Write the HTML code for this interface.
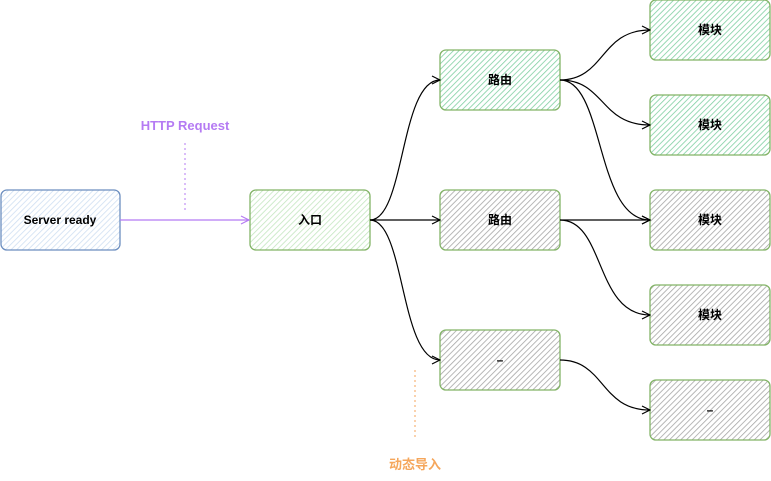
<!DOCTYPE html>
<html><head><meta charset="utf-8"><style>
body{margin:0;background:#fff;}
svg{display:block}
text{font-family:"Liberation Sans","Noto Sans CJK SC",sans-serif;}
</style></head><body>
<svg width="771" height="481" viewBox="0 0 771 481" xmlns="http://www.w3.org/2000/svg">
<defs>
<pattern id="hg" width="4" height="4" patternUnits="userSpaceOnUse" patternTransform="rotate(45)"><rect width="4" height="4" fill="#fff"/><line x1="0" y1="0" x2="0" y2="4" stroke="#7fcfa2" stroke-width="1.6"/></pattern>
<pattern id="hl" width="4" height="4" patternUnits="userSpaceOnUse" patternTransform="rotate(45)"><rect width="4" height="4" fill="#fff"/><line x1="0" y1="0" x2="0" y2="4" stroke="#c4e6c0" stroke-width="1.6"/></pattern>
<pattern id="hy" width="4" height="4" patternUnits="userSpaceOnUse" patternTransform="rotate(45)"><rect width="4" height="4" fill="#fff"/><line x1="0" y1="0" x2="0" y2="4" stroke="#a6a6a6" stroke-width="1.6"/></pattern>
<pattern id="hb" width="4" height="4" patternUnits="userSpaceOnUse" patternTransform="rotate(45)"><rect width="4" height="4" fill="#fff"/><line x1="0" y1="0" x2="0" y2="4" stroke="#cfdff2" stroke-width="1.6"/></pattern>
<marker id="a" markerWidth="10" markerHeight="10" refX="9" refY="5" orient="auto" markerUnits="userSpaceOnUse"><path d="M1,1 L9,5 L1,9" fill="none" stroke="#000" stroke-width="1.2"/></marker>
<marker id="ap" markerWidth="10" markerHeight="10" refX="9" refY="5" orient="auto" markerUnits="userSpaceOnUse"><path d="M1,1 L9,5 L1,9" fill="none" stroke="#b57bf3" stroke-width="1.2"/></marker>
</defs>
<g stroke-width="1.3">
<rect x="1" y="190" width="119" height="60" rx="6" fill="url(#hb)" stroke="#6c8ebf"/>
<rect x="250" y="190" width="120" height="60" rx="6" fill="url(#hl)" stroke="#82b366"/>
<rect x="440" y="50" width="120" height="60" rx="6" fill="url(#hg)" stroke="#82b366"/>
<rect x="440" y="190" width="120" height="60" rx="6" fill="url(#hy)" stroke="#82b366"/>
<rect x="440" y="330" width="120" height="60" rx="6" fill="url(#hy)" stroke="#82b366"/>
<rect x="650" y="0" width="120" height="60" rx="6" fill="url(#hg)" stroke="#82b366"/>
<rect x="650" y="95" width="120" height="60" rx="6" fill="url(#hg)" stroke="#82b366"/>
<rect x="650" y="190" width="120" height="60" rx="6" fill="url(#hy)" stroke="#82b366"/>
<rect x="650" y="285" width="120" height="60" rx="6" fill="url(#hy)" stroke="#82b366"/>
<rect x="650" y="380" width="120" height="60" rx="6" fill="url(#hy)" stroke="#82b366"/>
</g>
<g fill="none" stroke="#000" stroke-width="1.2">
<path d="M370,220 C405,220 400,80 440,80" marker-end="url(#a)"/>
<path d="M370,220 L440,220" marker-end="url(#a)"/>
<path d="M370,220 C405,220 400,360 440,360" marker-end="url(#a)"/>
<path d="M560,80 C605,80 600,30 650,30" marker-end="url(#a)"/>
<path d="M560,80 C605,80 600,125 650,125" marker-end="url(#a)"/>
<path d="M560,80 C605,80 595,220 650,220" marker-end="url(#a)"/>
<path d="M560,220 L650,220" marker-end="url(#a)"/>
<path d="M560,220 C605,220 595,315 650,315" marker-end="url(#a)"/>
<path d="M560,360 C605,360 600,410 650,410" marker-end="url(#a)"/>
</g>
<path d="M120,220 L249,220" stroke="#b57bf3" stroke-width="1.2" fill="none" marker-end="url(#ap)"/>
<path d="M185,143 L185,212" stroke="#b57bf3" stroke-width="1" stroke-dasharray="2,3"/>
<path d="M415,370 L415,440" stroke="#f5a65b" stroke-width="1" stroke-dasharray="2,3"/>
<g font-size="12" text-anchor="middle" fill="#000" font-weight="bold">
<text x="60" y="224">Server ready</text>
<text x="310" y="224">入口</text>
<text x="500" y="84">路由</text>
<text x="500" y="224">路由</text>
<text x="500" y="364">–</text>
<text x="710" y="34">模块</text>
<text x="710" y="129">模块</text>
<text x="710" y="224">模块</text>
<text x="710" y="319">模块</text>
<text x="710" y="414">–</text>
</g>
<text x="185" y="130" font-size="13" text-anchor="middle" fill="#b57bf3" font-weight="bold">HTTP Request</text>
<text x="415" y="469" font-size="13" text-anchor="middle" fill="#f5a65b" font-weight="bold">动态导入</text>
</svg>
</body></html>
